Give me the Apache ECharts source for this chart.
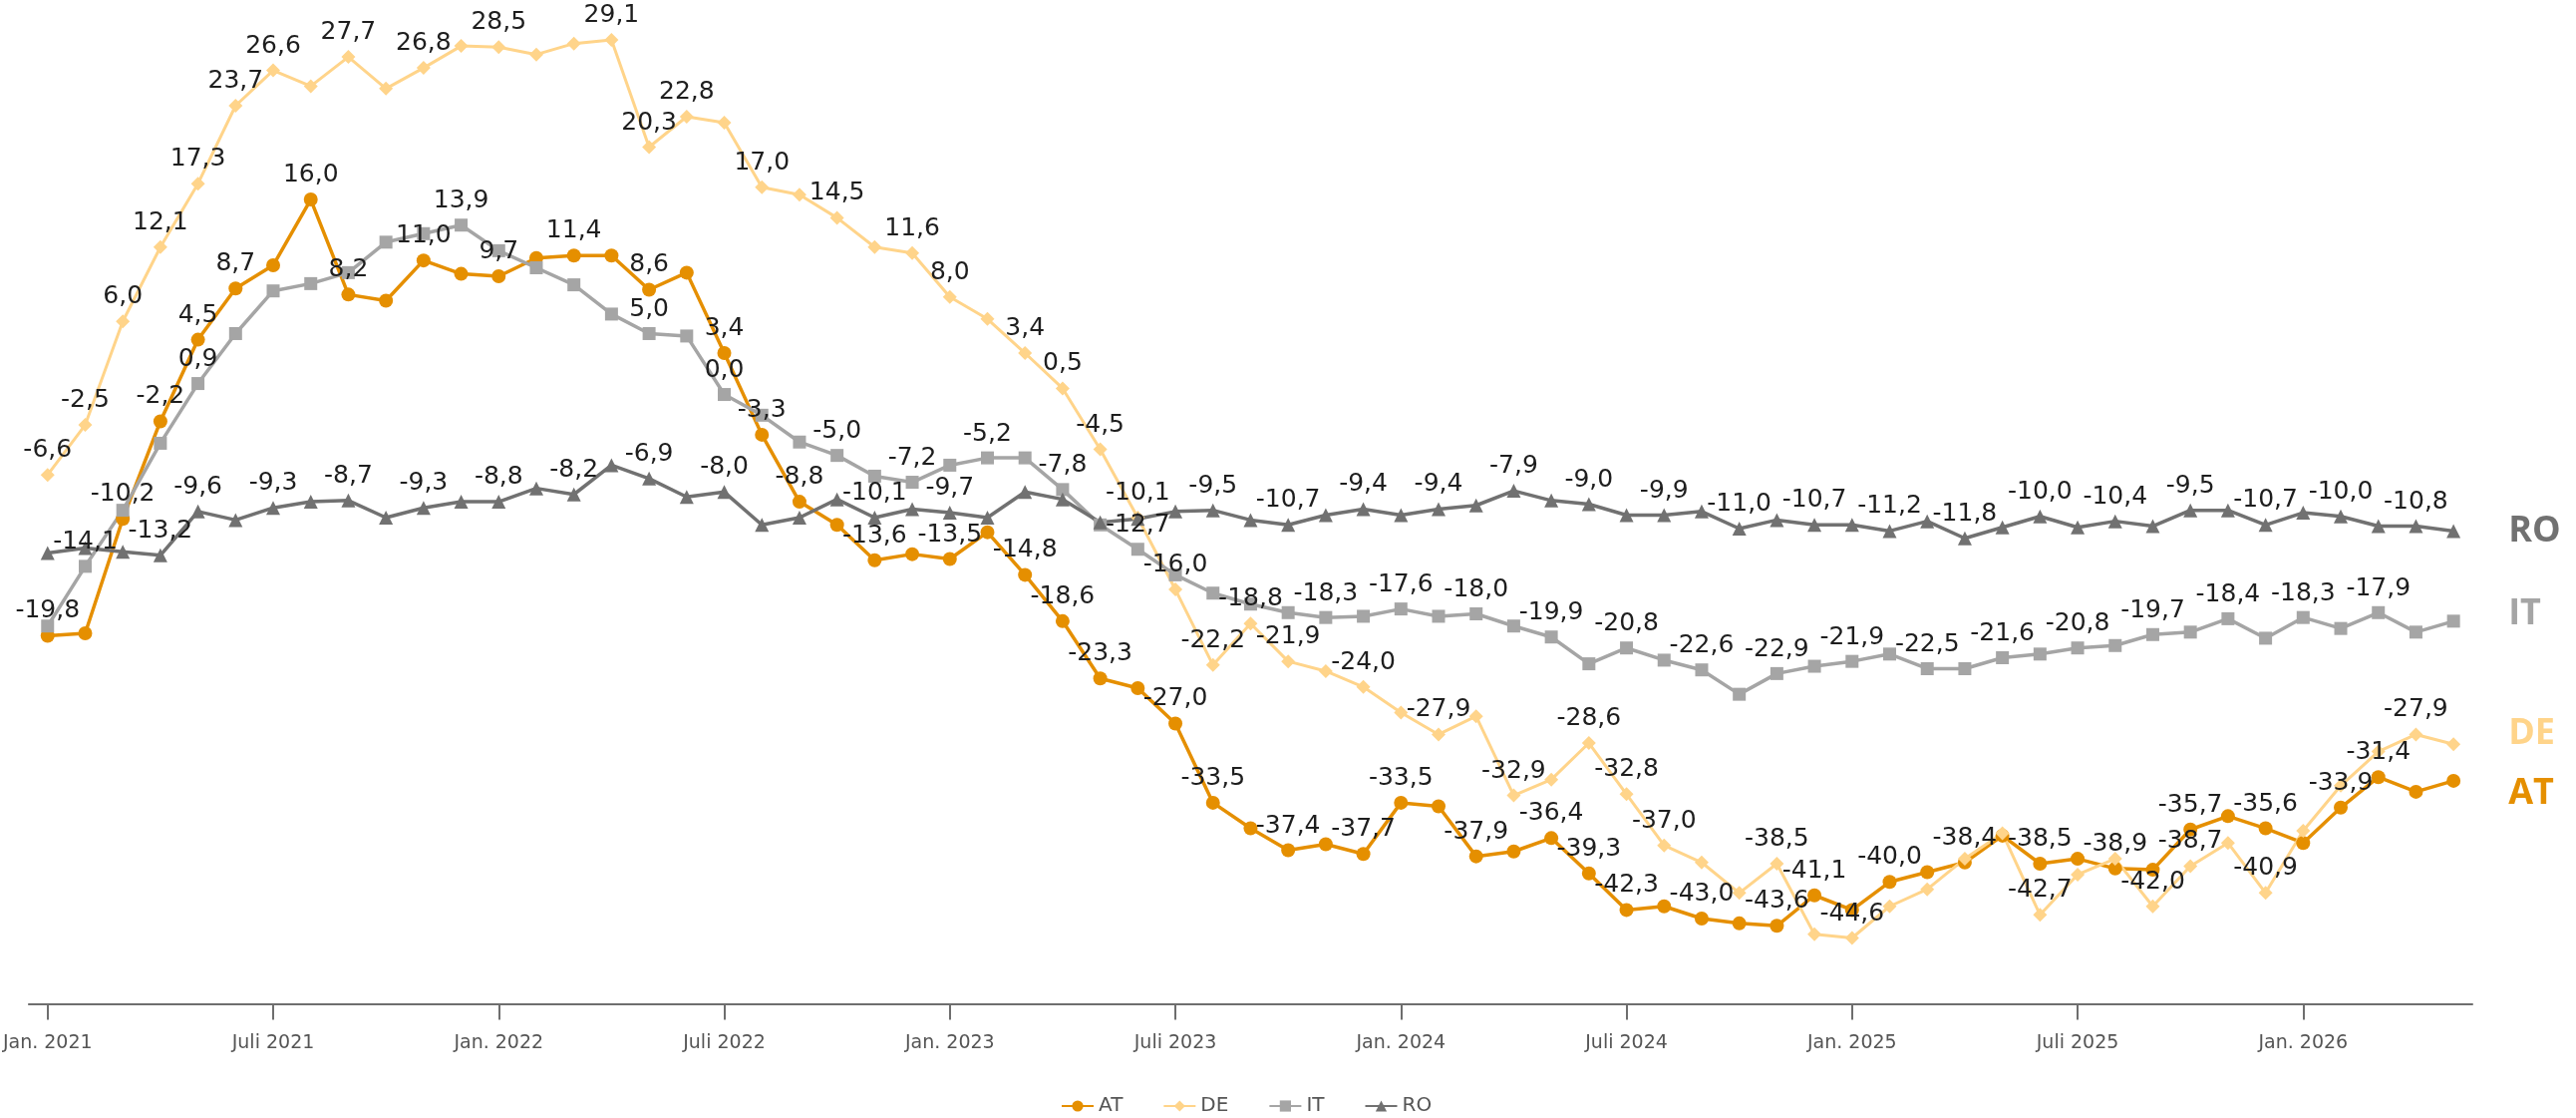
<!DOCTYPE html>
<html>
<head>
<meta charset="utf-8">
<title>Vertrauensindikator AT / DE / IT / RO</title>
<script src="https://cdn.jsdelivr.net/npm/echarts@6/dist/echarts.min.js"></script>
<style>
  html, body { margin: 0; padding: 0; background: #ffffff; }
  #chart { width: 2584px; height: 1121px; }
</style>
</head>
<body>
<div id="chart"></div>
<script>
// Monthly categories, Jan. 2021 – Mai 2026
const monthNames = ['Jan.', 'Feb.', 'März', 'Apr.', 'Mai', 'Juni', 'Juli', 'Aug.', 'Sep.', 'Okt.', 'Nov.', 'Dez.'];
const startYear = 2021;
const monthCount = 65;

// Series values (balance in %-points)
const AT = [
  -19.8, -19.6, -10.2, -2.2, 4.5, 8.7, 10.6, 16.0, 8.2, 7.7, 11.0,
  9.9, 9.7, 11.2, 11.4, 11.4, 8.6, 10.0, 3.4, -3.3, -8.8,
  -10.7, -13.6, -13.1, -13.5, -11.3, -14.8, -18.6, -23.3, -24.1, -27.0,
  -33.5, -35.6, -37.4, -36.9, -37.7, -33.5, -33.8, -37.9, -37.5, -36.4,
  -39.3, -42.3, -42.0, -43.0, -43.4, -43.6, -41.1, -42.3, -40.0, -39.2,
  -38.4, -36.2, -38.5, -38.1, -38.9, -39.0, -35.7, -34.6, -35.6, -36.8,
  -33.9, -31.4, -32.6, -31.7
];
const DE = [
  -6.6, -2.5, 6.0, 12.1, 17.3, 23.7, 26.6, 25.3, 27.7, 25.1, 26.8,
  28.6, 28.5, 27.9, 28.8, 29.1, 20.3, 22.8, 22.3, 17.0, 16.4,
  14.5, 12.1, 11.6, 8.0, 6.2, 3.4, 0.5, -4.5, -10.1, -16.0,
  -22.2, -18.8, -21.9, -22.7, -24.0, -26.1, -27.9, -26.4, -32.9, -31.6,
  -28.6, -32.8, -37.0, -38.4, -40.9, -38.5, -44.3, -44.6, -42.0, -40.6,
  -38.1, -36.0, -42.7, -39.4, -38.1, -42.0, -38.7, -36.8, -40.9, -35.8,
  -32.1, -29.3, -27.9, -28.7
];
const IT = [
  -19.0, -14.1, -9.5, -4.0, 0.9, 5.0, 8.5, 9.1, 10.0, 12.5, 13.2,
  13.9, 11.8, 10.4, 9.0, 6.6, 5.0, 4.8, 0.0, -1.7, -3.9,
  -5.0, -6.7, -7.2, -5.8, -5.2, -5.2, -7.8, -10.7, -12.7, -14.8,
  -16.3, -17.2, -17.9, -18.3, -18.2, -17.6, -18.2, -18.0, -19.0, -19.9,
  -22.1, -20.8, -21.8, -22.6, -24.6, -22.9, -22.3, -21.9, -21.3, -22.5,
  -22.5, -21.6, -21.3, -20.8, -20.6, -19.7, -19.5, -18.4, -20.0, -18.3,
  -19.2, -17.9, -19.5, -18.6
];
const RO = [
  -13.0, -12.6, -12.9, -13.2, -9.6, -10.3, -9.3, -8.8, -8.7, -10.1, -9.3,
  -8.8, -8.8, -7.7, -8.2, -5.8, -6.9, -8.4, -8.0, -10.7, -10.1,
  -8.6, -10.1, -9.4, -9.7, -10.1, -8.0, -8.6, -10.5, -10.2, -9.6,
  -9.5, -10.3, -10.7, -9.9, -9.4, -9.9, -9.4, -9.1, -7.9, -8.7,
  -9.0, -9.9, -9.9, -9.6, -11.0, -10.3, -10.7, -10.7, -11.2, -10.4,
  -11.8, -10.9, -10.0, -10.9, -10.4, -10.8, -9.5, -9.5, -10.7, -9.7,
  -10.0, -10.8, -10.8, -11.2
];

// Months whose value is written above the marker
const AT_labelled = [0, 2, 3, 4, 5, 7, 8, 10, 12, 14, 16, 18, 19, 20, 22, 24, 26, 27, 28, 30, 31, 33, 35, 36, 38, 40, 41, 42, 44, 46, 47, 49, 51, 53, 55, 57, 59, 61, 62];
const DE_labelled = [0, 1, 2, 3, 4, 5, 6, 8, 10, 12, 15, 16, 17, 19, 21, 23, 24, 26, 27, 28, 29, 30, 31, 32, 33, 35, 37, 39, 41, 42, 43, 46, 48, 53, 56, 57, 59, 63];
const IT_labelled = [1, 4, 11, 16, 18, 21, 23, 25, 27, 29, 34, 36, 38, 40, 42, 44, 46, 48, 50, 52, 54, 56, 58, 60, 62];
const RO_labelled = [3, 4, 6, 8, 10, 12, 14, 16, 18, 22, 24, 31, 33, 35, 37, 39, 41, 43, 45, 47, 49, 51, 53, 55, 57, 59, 61, 63];

const categories = [];
for (let i = 0; i < monthCount; i++) {
  const y = startYear + Math.floor(i / 12);
  categories.push(monthNames[i % 12] + ' ' + y);
}

const fmt = v => v.toFixed(1).replace('.', ',');

function withLabels(values, labelled) {
  const set = new Set(labelled);
  return values.map((v, i) => ({ value: v, label: { show: set.has(i) } }));
}

const labelFont = 'DejaVu Sans, Verdana, sans-serif';

function makeSeries(name, values, labelled, color, symbol, size, width, endOffsetY) {
  return {
    name: name,
    type: 'line',
    data: withLabels(values, labelled),
    symbol: symbol,
    symbolSize: size,
    showAllSymbol: true,
    lineStyle: { color: color, width: width },
    itemStyle: { color: color },
    label: {
      show: false,
      position: 'top',
      distance: 5,
      color: '#1e1e1e',
      fontSize: 25,
      fontFamily: labelFont,
      formatter: p => fmt(p.value)
    },
    endLabel: {
      show: true,
      formatter: '{a}',
      distance: 55,
      offset: [0, endOffsetY],
      color: color,
      fontSize: 36,
      fontWeight: 'bold',
      fontFamily: 'Open Sans, sans-serif'
    },
    emphasis: { disabled: true }
  };
}

const option = {
  animation: false,
  backgroundColor: '#ffffff',
  color: ['#E58F00', '#FFD48A', '#A5A5A5', '#717171'],
  grid: { left: 16, right: 104, top: 29, bottom: 114.5, containLabel: false },
  legend: {
    left: 1059,
    top: 1094,
    itemWidth: 32,
    itemHeight: 14,
    itemGap: 40,
    textStyle: { color: '#555555', fontSize: 20, fontFamily: labelFont },
    data: ['AT', 'DE', 'IT', 'RO']
  },
  xAxis: {
    type: 'category',
    data: categories,
    boundaryGap: true,
    axisLine: { show: true, onZero: false, lineStyle: { color: '#6e6e6e', width: 2 } },
    axisTick: {
      show: true,
      alignWithLabel: true,
      interval: 5,
      length: 16,
      lineStyle: { color: '#6e6e6e', width: 2 }
    },
    axisLabel: {
      interval: 5,
      color: '#555555',
      fontSize: 19,
      fontFamily: labelFont,
      margin: 30
    },
    splitLine: { show: false }
  },
  yAxis: {
    type: 'value',
    min: -50,
    max: 30,
    show: false,
    splitLine: { show: false }
  },
  series: [
    makeSeries('AT', AT, AT_labelled, '#E58F00', 'circle', 14, 3.5, 13),
    makeSeries('DE', DE, DE_labelled, '#FFD48A', 'diamond', 14, 3, -10),
    makeSeries('IT', IT, IT_labelled, '#A5A5A5', 'rect', 13, 3.5, -7),
    makeSeries('RO', RO, RO_labelled, '#717171', 'triangle', 14, 3.5, 0)
  ]
};

const chart = echarts.init(document.getElementById('chart'), null, { renderer: 'canvas' });
chart.setOption(option);
</script>
</body>
</html>
